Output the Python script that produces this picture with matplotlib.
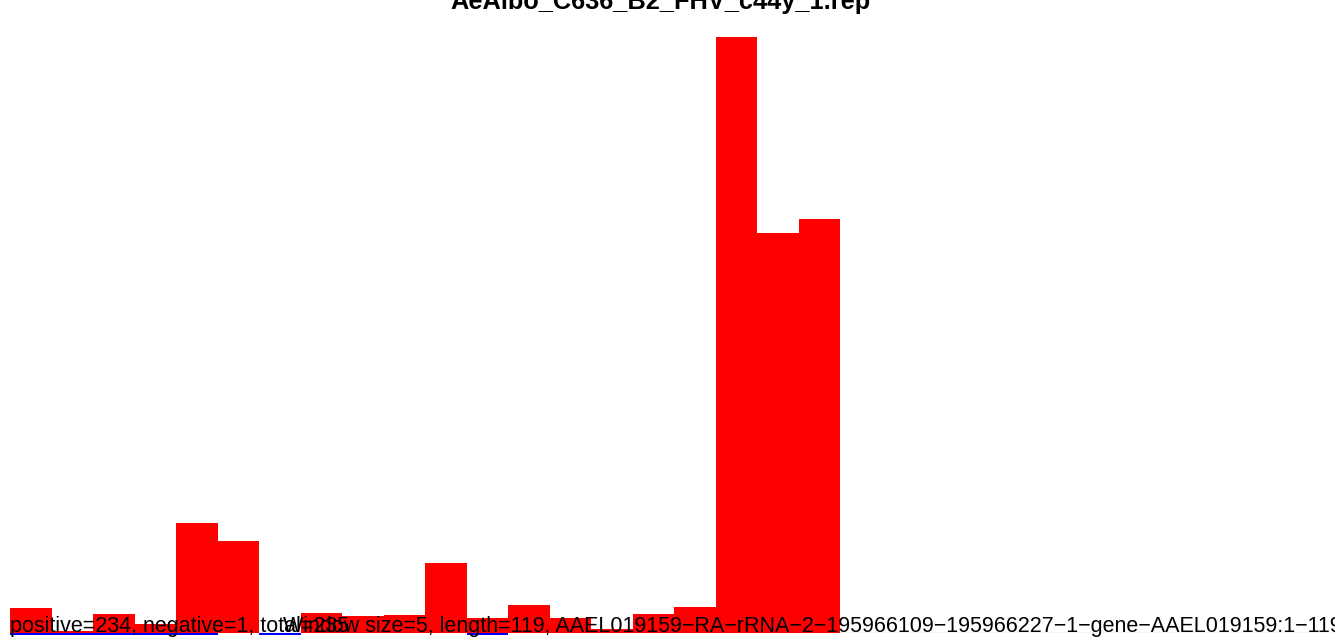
import matplotlib
matplotlib.use("Agg")
import matplotlib.pyplot as plt

# Per-window read signal (window size 5 over a 119 nt reference)
windows = list(range(32))
positive = [4.2, 0.3, 3.2, 1.5, 18.5, 15.4, 0.0, 3.4, 2.9, 3.0,
            11.7, 2.5, 4.7, 2.5, 0.7, 3.2, 4.4, 100.0, 67.1, 69.5,
            0, 0, 0, 0, 0, 0, 0, 0, 0, 0, 0, 0]
negative = [-0.35, -0.35, -0.35, -0.35, -0.35, 0.0, -0.35, 0.0, 0.0, 0.0,
            0.0, -0.35, 0.0, 0.0, 0.0, 0.0, 0.0, 0.0, 0.0, 0.0,
            0, 0, 0, 0, 0, 0, 0, 0, 0, 0, 0, 0]

title = "AeAlbo_C636_B2_FHV_c44y_1.rep"
counts_label = "positive=234, negative=1, total=235"
info_label = ("Window size=5, length=119, AAEL019159\u2212RA\u2212rRNA\u22122\u2212"
              "195966109\u2212195966227\u22121\u2212gene\u2212AAEL019159:1\u2212119")

plt.rcParams['font.family'] = ['Liberation Sans', 'DejaVu Sans']

W, H = 1335, 639
fig = plt.figure(figsize=(W / 100, H / 100), dpi=100)
left, right = 10 / W, 1.0
bottom, top = (H - 633) / H, (H - 37) / H
ax = fig.add_axes([left, bottom, right - left, top - bottom])
ax.set_xlim(0, (W - 10) / 41.5)
ax.set_ylim(0, 100)
ax.axis("off")

ax.axhline(0, color="#555555", lw=0.8, zorder=1)
ax.bar(windows, positive, width=1.0, align="edge", color="#ff0000",
       edgecolor="none", zorder=2, clip_on=False)
ax.bar(windows, negative, width=1.0, align="edge", color="#0000ff",
       edgecolor="none", zorder=3, clip_on=False)

fig.text(660 / W, 1 - 2 / H, title, ha="center", va="center",
         fontsize=18.3, fontweight="bold")
fig.text(10 / W, (H - 632) / H, counts_label, ha="left", va="baseline",
         fontsize=15.5, zorder=5)
fig.text(283 / W, (H - 632) / H, info_label, ha="left", va="baseline",
         fontsize=15.5, zorder=5)

fig.savefig("out.png", dpi=100)
